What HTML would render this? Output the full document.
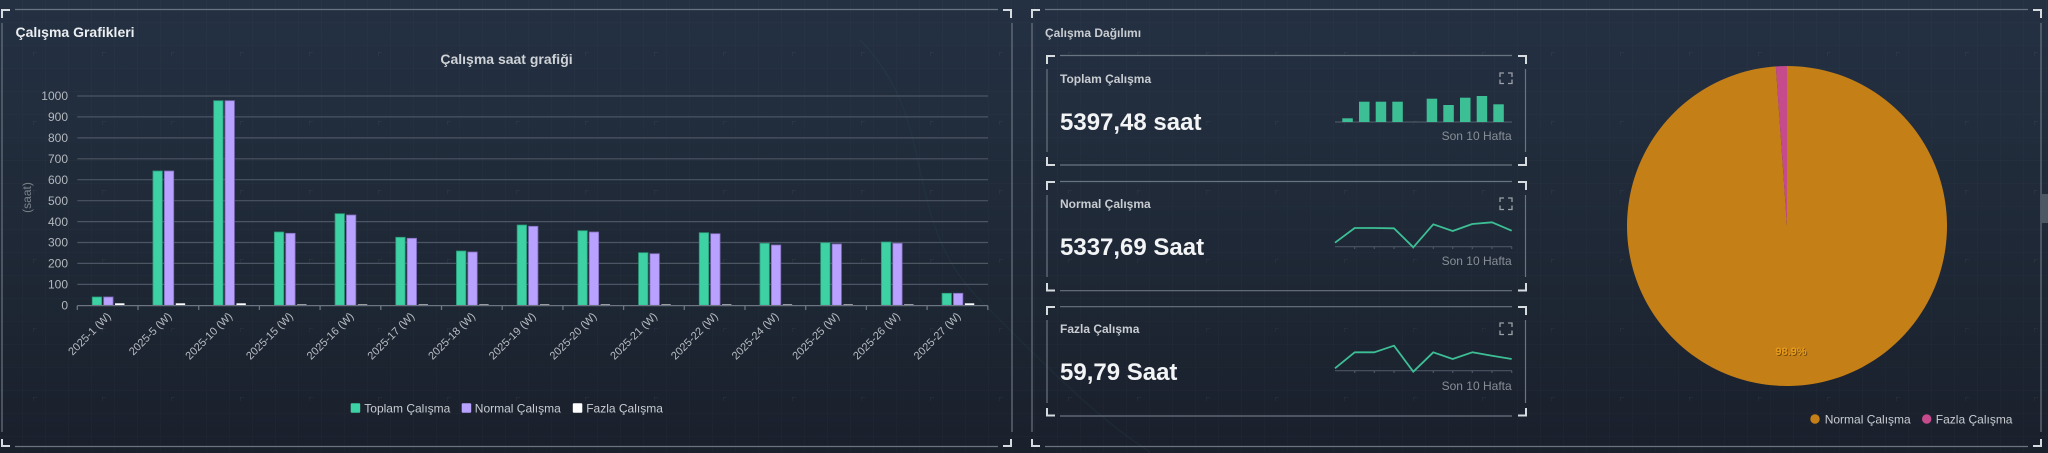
<!DOCTYPE html>
<html>
<head>
<meta charset="utf-8">
<style>
html,body{margin:0;padding:0;background:#1d2633;width:2048px;height:453px;overflow:hidden;}
svg{display:block;font-family:"Liberation Sans",sans-serif;}
</style>
</head>
<body>
<svg width="2048" height="453" viewBox="0 0 2048 453" xmlns="http://www.w3.org/2000/svg">
<defs>
  <linearGradient id="bg" x1="0" y1="0" x2="0" y2="1">
    <stop offset="0" stop-color="#243143"/>
    <stop offset="0.5" stop-color="#1f2937"/>
    <stop offset="1" stop-color="#1a202c"/>
  </linearGradient>
  <pattern id="fine" width="23" height="23" patternUnits="userSpaceOnUse">
    <path d="M23 0V23M0 23H23" stroke="#ffffff" stroke-opacity="0.028" stroke-width="1" fill="none"/>
  </pattern>
  <pattern id="cross" width="69" height="69" patternUnits="userSpaceOnUse" x="33" y="52">
    <path d="M-4 0H4M0 -4V4" stroke="#ffffff" stroke-opacity="0.07" stroke-width="1" fill="none"/>
  </pattern>
  <clipPath id="frame"><rect x="0" y="0" width="2048" height="453"/></clipPath>
</defs>
<g clip-path="url(#frame)">
<!-- background -->
<rect x="0" y="0" width="2048" height="453" fill="url(#bg)"/>
<rect x="0" y="0" width="2048" height="453" fill="url(#fine)"/>
<rect x="0" y="0" width="2048" height="453" fill="url(#cross)"/>
<!-- faint globe -->
<g fill="none" stroke="#2e5a5e" stroke-opacity="0.15" stroke-width="1.5">
  <path d="M860 40 C 940 120, 900 220, 980 300 S 1100 420, 1150 452"/>
</g>

<!-- ================= LEFT PANEL FRAME ================= -->
<g stroke="#6a7480" stroke-width="1.2" fill="none">
  <line x1="15" y1="9.5" x2="998" y2="9.5"/>
  <line x1="15" y1="446.5" x2="998" y2="446.5"/>
  <line x1="2" y1="23" x2="2" y2="432"/>
  <line x1="1012" y1="23" x2="1012" y2="432"/>
</g>
<g stroke="#d6dbe0" stroke-width="2" fill="none">
  <path d="M2 18V10H10"/>
  <path d="M1003 10H1011V18"/>
  <path d="M2 439V446H10"/>
  <path d="M1003 446H1011V439"/>
</g>

<text x="15.5" y="37" font-size="14" font-weight="bold" fill="#eceff2">Çalışma Grafikleri</text>
<text x="506.5" y="64" font-size="14" font-weight="bold" fill="#cfd3d7" text-anchor="middle">Çalışma saat grafiği</text>

<!-- gridlines -->
<g stroke="#4b5563" stroke-width="1.2">
  <line x1="77.3" y1="284.4" x2="988" y2="284.4"/>
  <line x1="77.3" y1="263.4" x2="988" y2="263.4"/>
  <line x1="77.3" y1="242.5" x2="988" y2="242.5"/>
  <line x1="77.3" y1="221.6" x2="988" y2="221.6"/>
  <line x1="77.3" y1="200.7" x2="988" y2="200.7"/>
  <line x1="77.3" y1="179.7" x2="988" y2="179.7"/>
  <line x1="77.3" y1="158.8" x2="988" y2="158.8"/>
  <line x1="77.3" y1="137.9" x2="988" y2="137.9"/>
  <line x1="77.3" y1="116.9" x2="988" y2="116.9"/>
  <line x1="77.3" y1="96" x2="988" y2="96"/>
</g>

<!-- y labels -->
<g font-size="12" fill="#b3b8be" text-anchor="end">
  <text x="68" y="309.5">0</text>
  <text x="68" y="288.6">100</text>
  <text x="68" y="267.6">200</text>
  <text x="68" y="246.7">300</text>
  <text x="68" y="225.8">400</text>
  <text x="68" y="204.9">500</text>
  <text x="68" y="183.9">600</text>
  <text x="68" y="163">700</text>
  <text x="68" y="142.1">800</text>
  <text x="68" y="121.1">900</text>
  <text x="68" y="100.2">1000</text>
</g>
<text transform="translate(31,197.5) rotate(-90)" font-size="12" fill="#7a828b" text-anchor="middle">(saat)</text>

<!-- bars: Toplam (green) -->
<g fill="#3dd1a3" stroke="#2a9a78" stroke-width="0.8">
  <rect x="92.25" y="297" width="9.4" height="8.3"/>
  <rect x="152.95" y="171" width="9.4" height="134.3"/>
  <rect x="213.65" y="100.7" width="9.4" height="204.6"/>
  <rect x="274.35" y="232" width="9.4" height="73.3"/>
  <rect x="335.05" y="213.7" width="9.4" height="91.6"/>
  <rect x="395.75" y="237.3" width="9.4" height="68"/>
  <rect x="456.45" y="251" width="9.4" height="54.3"/>
  <rect x="517.15" y="225" width="9.4" height="80.3"/>
  <rect x="577.85" y="230.7" width="9.4" height="74.6"/>
  <rect x="638.55" y="252.7" width="9.4" height="52.6"/>
  <rect x="699.25" y="232.7" width="9.4" height="72.6"/>
  <rect x="759.95" y="243.3" width="9.4" height="62"/>
  <rect x="820.65" y="242.7" width="9.4" height="62.6"/>
  <rect x="881.35" y="242" width="9.4" height="63.3"/>
  <rect x="942.05" y="293.3" width="9.4" height="12"/>
</g>
<!-- bars: Normal (purple) -->
<g fill="#b9a1ff" stroke="#7f6cb8" stroke-width="0.8">
  <rect x="103.65" y="297" width="9.4" height="8.3"/>
  <rect x="164.35" y="171" width="9.4" height="134.3"/>
  <rect x="225.05" y="100.7" width="9.4" height="204.6"/>
  <rect x="285.75" y="233.3" width="9.4" height="72"/>
  <rect x="346.45" y="215" width="9.4" height="90.3"/>
  <rect x="407.15" y="238.3" width="9.4" height="67"/>
  <rect x="467.85" y="252" width="9.4" height="53.3"/>
  <rect x="528.55" y="226.3" width="9.4" height="79"/>
  <rect x="589.25" y="232" width="9.4" height="73.3"/>
  <rect x="649.95" y="253.7" width="9.4" height="51.6"/>
  <rect x="710.65" y="233.7" width="9.4" height="71.6"/>
  <rect x="771.35" y="245" width="9.4" height="60.3"/>
  <rect x="832.05" y="244" width="9.4" height="61.3"/>
  <rect x="892.75" y="243.3" width="9.4" height="62"/>
  <rect x="953.45" y="293.3" width="9.4" height="12"/>
</g>
<!-- bars: Fazla (white) -->
<g fill="#ffffff">
  <rect x="115.05" y="303.3" width="9.4" height="2"/>
  <rect x="175.75" y="303.3" width="9.4" height="2"/>
  <rect x="236.45" y="303.3" width="9.4" height="2"/>
  <rect x="297.15" y="304.1" width="9.4" height="1.2" fill-opacity="0.6"/>
  <rect x="357.85" y="304.1" width="9.4" height="1.2" fill-opacity="0.6"/>
  <rect x="418.55" y="304.1" width="9.4" height="1.2" fill-opacity="0.6"/>
  <rect x="479.25" y="304.1" width="9.4" height="1.2" fill-opacity="0.6"/>
  <rect x="539.95" y="304.1" width="9.4" height="1.2" fill-opacity="0.6"/>
  <rect x="600.65" y="304.1" width="9.4" height="1.2" fill-opacity="0.6"/>
  <rect x="661.35" y="304.1" width="9.4" height="1.2" fill-opacity="0.6"/>
  <rect x="722.05" y="304.1" width="9.4" height="1.2" fill-opacity="0.6"/>
  <rect x="782.75" y="304.1" width="9.4" height="1.2" fill-opacity="0.6"/>
  <rect x="843.45" y="304.1" width="9.4" height="1.2" fill-opacity="0.6"/>
  <rect x="904.15" y="304.1" width="9.4" height="1.2" fill-opacity="0.6"/>
  <rect x="964.85" y="303.3" width="9.4" height="2"/>
</g>

<!-- x axis line + ticks -->
<g stroke="#6b7480" stroke-width="1.3">
  <line x1="77.3" y1="305.6" x2="988" y2="305.6"/>
  <path d="M77.3 305.6V310M138 305.6V310M198.7 305.6V310M259.4 305.6V310M320.1 305.6V310M380.8 305.6V310M441.5 305.6V310M502.2 305.6V310M562.9 305.6V310M623.6 305.6V310M684.3 305.6V310M745 305.6V310M805.7 305.6V310M866.4 305.6V310M927.1 305.6V310M987.8 305.6V310" fill="none"/>
</g>

<!-- x labels -->
<g font-size="11" fill="#b8bdc3" text-anchor="end">
  <text transform="translate(111.6,317) rotate(-45)">2025-1 (W)</text>
  <text transform="translate(172.3,317) rotate(-45)">2025-5 (W)</text>
  <text transform="translate(233,317) rotate(-45)">2025-10 (W)</text>
  <text transform="translate(293.7,317) rotate(-45)">2025-15 (W)</text>
  <text transform="translate(354.4,317) rotate(-45)">2025-16 (W)</text>
  <text transform="translate(415.1,317) rotate(-45)">2025-17 (W)</text>
  <text transform="translate(475.8,317) rotate(-45)">2025-18 (W)</text>
  <text transform="translate(536.5,317) rotate(-45)">2025-19 (W)</text>
  <text transform="translate(597.2,317) rotate(-45)">2025-20 (W)</text>
  <text transform="translate(657.9,317) rotate(-45)">2025-21 (W)</text>
  <text transform="translate(718.6,317) rotate(-45)">2025-22 (W)</text>
  <text transform="translate(779.3,317) rotate(-45)">2025-24 (W)</text>
  <text transform="translate(840,317) rotate(-45)">2025-25 (W)</text>
  <text transform="translate(900.7,317) rotate(-45)">2025-26 (W)</text>
  <text transform="translate(961.4,317) rotate(-45)">2025-27 (W)</text>
</g>

<!-- legend -->
<rect x="350.7" y="403.3" width="9.5" height="9.5" rx="1" fill="#3dd1a3"/>
<text x="364.3" y="412.3" font-size="12" fill="#c9cdd2">Toplam Çalışma</text>
<rect x="461.7" y="403.3" width="9.5" height="9.5" rx="1" fill="#b9a1ff"/>
<text x="474.8" y="412.3" font-size="12" fill="#c9cdd2">Normal Çalışma</text>
<rect x="572.8" y="403.3" width="9.5" height="9.5" rx="1" fill="#ffffff"/>
<text x="586.2" y="412.3" font-size="12" fill="#c9cdd2">Fazla Çalışma</text>

<!-- ================= RIGHT PANEL FRAME ================= -->
<g stroke="#6a7480" stroke-width="1.2" fill="none">
  <line x1="1045" y1="9.5" x2="2028" y2="9.5"/>
  <line x1="1045" y1="446.5" x2="2028" y2="446.5"/>
  <line x1="1032" y1="23" x2="1032" y2="432"/>
  <line x1="2041" y1="23" x2="2041" y2="432"/>
</g>
<g stroke="#d6dbe0" stroke-width="2" fill="none">
  <path d="M1032 18V10H1040"/>
  <path d="M2033 10H2041V18"/>
  <path d="M1032 439V446H1040"/>
  <path d="M2033 446H2041V439"/>
</g>
<rect x="2041" y="194" width="7" height="29" fill="#4d5864"/>

<text x="1045" y="37" font-size="12" font-weight="bold" fill="#c9cdd2">Çalışma Dağılımı</text>

<!-- cards frames -->
<g stroke="#6a7480" stroke-width="1.2" fill="none">
  <line x1="1060" y1="55.5" x2="1512" y2="55.5"/>
  <line x1="1060" y1="165" x2="1512" y2="165"/>
  <line x1="1047" y1="69" x2="1047" y2="152"/>
  <line x1="1525.5" y1="69" x2="1525.5" y2="152"/>

  <line x1="1060" y1="181.5" x2="1512" y2="181.5"/>
  <line x1="1060" y1="290.7" x2="1512" y2="290.7"/>
  <line x1="1047" y1="195" x2="1047" y2="277"/>
  <line x1="1525.5" y1="195" x2="1525.5" y2="277"/>

  <line x1="1060" y1="306.7" x2="1512" y2="306.7"/>
  <line x1="1060" y1="416" x2="1512" y2="416"/>
  <line x1="1047" y1="320" x2="1047" y2="403"/>
  <line x1="1525.5" y1="320" x2="1525.5" y2="403"/>
</g>
<g stroke="#d6dbe0" stroke-width="2" fill="none">
  <path d="M1047 64V56H1055"/>
  <path d="M1518 56H1526V64"/>
  <path d="M1047 157V165H1055"/>
  <path d="M1518 165H1526V157"/>

  <path d="M1047 190V182H1055"/>
  <path d="M1518 182H1526V190"/>
  <path d="M1047 283V290.5H1055"/>
  <path d="M1518 290.5H1526V283"/>

  <path d="M1047 315V307H1055"/>
  <path d="M1518 307H1526V315"/>
  <path d="M1047 408V415.5H1055"/>
  <path d="M1518 415.5H1526V408"/>
</g>

<!-- card texts -->
<g font-weight="bold">
  <text x="1060" y="83" font-size="12" fill="#c9cdd2">Toplam Çalışma</text>
  <text x="1060" y="130" font-size="24" fill="#f2f4f6">5397,48 saat</text>
  <text x="1060" y="208" font-size="12" fill="#c9cdd2">Normal Çalışma</text>
  <text x="1060" y="255" font-size="24" fill="#f2f4f6">5337,69 Saat</text>
  <text x="1060" y="333" font-size="12" fill="#c9cdd2">Fazla Çalışma</text>
  <text x="1060" y="380" font-size="24" fill="#f2f4f6">59,79 Saat</text>
</g>
<g font-size="12" fill="#878e96" text-anchor="end">
  <text x="1511.7" y="140">Son 10 Hafta</text>
  <text x="1511.7" y="265">Son 10 Hafta</text>
  <text x="1511.7" y="390">Son 10 Hafta</text>
</g>

<!-- expand icons -->
<g stroke="#9aa1a8" stroke-width="1.3" fill="none">
  <path d="M1500 77V73H1504M1508 73H1512V77M1512 79.5V83.5H1508M1504 83.5H1500V79.5"/>
  <path d="M1500 202V198H1504M1508 198H1512V202M1512 205.5V209.5H1508M1504 209.5H1500V205.5"/>
  <path d="M1500 327V323H1504M1508 323H1512V327M1512 330.5V334.5H1508M1504 334.5H1500V330.5"/>
</g>

<!-- sparkbars -->
<line x1="1335" y1="122" x2="1512" y2="122" stroke="#4b5563" stroke-width="1.2"/>
<g fill="#3dbf95">
  <rect x="1342.3" y="118.3" width="10.5" height="3.7"/>
  <rect x="1359" y="101.7" width="10.5" height="20.3"/>
  <rect x="1375.7" y="101.7" width="10.5" height="20.3"/>
  <rect x="1392.3" y="101.7" width="10.5" height="20.3"/>
  <rect x="1426.7" y="98.7" width="10.5" height="23.3"/>
  <rect x="1443.3" y="105" width="10.5" height="17"/>
  <rect x="1460" y="97.7" width="10.5" height="24.3"/>
  <rect x="1476.7" y="96" width="10.5" height="26"/>
  <rect x="1493.3" y="104.3" width="10.5" height="17.7"/>
</g>

<!-- sparkline axes -->
<g stroke="#4b5563" stroke-width="1.2">
  <line x1="1335" y1="246.7" x2="1512" y2="246.7"/>
  <path d="M1354.7 246.7V249M1374.3 246.7V249M1394 246.7V249M1413.3 246.7V249M1433.3 246.7V249M1452.7 246.7V249M1472.3 246.7V249M1492 246.7V249M1511.7 246.7V249" fill="none"/>
  <line x1="1335" y1="370.7" x2="1512" y2="370.7"/>
  <path d="M1354.7 370.7V373M1374.3 370.7V373M1394 370.7V373M1413.3 370.7V373M1433.3 370.7V373M1452.7 370.7V373M1472.3 370.7V373M1492 370.7V373M1511.7 370.7V373" fill="none"/>
</g>
<polyline fill="none" stroke="#3dbf95" stroke-width="1.8" stroke-linejoin="round"
  points="1335,242.7 1354.7,228 1374.3,228 1394,228.3 1413.3,247.3 1433.3,224.3 1452.7,231 1472.3,224 1492,222.3 1511.7,230.7"/>
<polyline fill="none" stroke="#3dbf95" stroke-width="1.8" stroke-linejoin="round"
  points="1335,368.3 1354.7,352.3 1374.3,352.3 1394,345.7 1413.3,371.7 1433.3,352.3 1452.7,359 1472.3,352.3 1492,355.7 1511.7,359"/>

<!-- pie -->
<path d="M1787 226 L1787 66 A160 160 0 1 1 1775.84 66.39 Z" fill="#c57f17"/>
<path d="M1787 226 L1775.84 66.39 A160 160 0 0 1 1787 66 Z" fill="#c64b8c"/>
<text x="1792" y="356" font-size="11" font-weight="bold" fill="#7a4d0c" text-anchor="middle">98.9%</text>
<text x="1791" y="355" font-size="11" font-weight="bold" fill="#e89c1c" text-anchor="middle">98.9%</text>

<!-- pie legend -->
<circle cx="1815" cy="419" r="4.7" fill="#c57f17"/>
<text x="1824.7" y="423.3" font-size="12" fill="#c9cdd2">Normal Çalışma</text>
<circle cx="1926.7" cy="419" r="4.7" fill="#c64b8c"/>
<text x="1935.8" y="423.3" font-size="12" fill="#c9cdd2">Fazla Çalışma</text>
</g>
</svg>
</body>
</html>
